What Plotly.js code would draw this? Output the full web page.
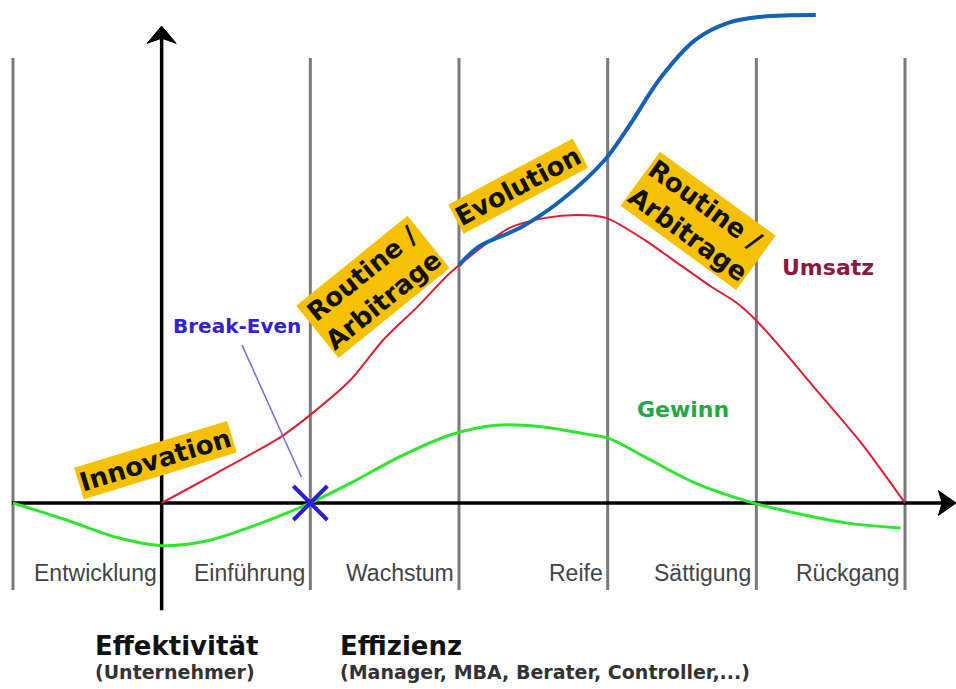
<!DOCTYPE html>
<html>
<head>
<meta charset="utf-8">
<script src="https://cdn.plot.ly/plotly-3.0.1.min.js"></script>
<style>
  html, body { margin: 0; padding: 0; background: #ffffff; }
  #chart { width: 956px; height: 689px; }
</style>
</head>
<body>
<div id="chart"></div>
<script>
// ---- data (x: phase units, 0..6 ; y: Umsatz percent of peak) ----
const phases = ['Entwicklung', 'Einführung', 'Wachstum', 'Reife', 'Sättigung', 'Rückgang'];
const boundaries = [0, 2, 3, 4, 5, 6];

const umsatzX = [1.00, 1.37, 1.80, 2.00, 2.27, 2.49, 2.72, 2.94, 3.34, 3.58, 3.80, 3.99, 4.25, 4.47, 4.70, 4.86, 4.99, 5.16, 5.37, 5.70, 6.00];
const umsatzY = [0, 10.4, 22.9, 30.6, 42.7, 56.6, 68.1, 79.9, 95.5, 99.0, 100, 99.0, 91.3, 83.3, 75.0, 69.8, 63.9, 54.2, 41.3, 21.2, 0];

const evolutionX = [3.00, 3.13, 3.42, 3.69, 3.98, 4.14, 4.36, 4.59, 4.81, 5.03, 5.40];
const evolutionY = [82.5, 88.9, 95.8, 105.2, 119.1, 130.6, 147.9, 160.8, 166.7, 168.8, 169.4];

const gewinnX = [0.00, 0.36, 0.70, 1.00, 1.30, 1.60, 2.00, 2.27, 2.60, 2.94, 3.25, 3.55, 3.85, 4.00, 4.25, 4.59, 4.96, 5.26, 5.60, 5.97];
const gewinnY = [0, -5.9, -12.0, -14.8, -13.2, -8.3, 0, 6.9, 16.0, 23.6, 27.0, 26.5, 24.0, 22.6, 16.0, 6.9, 0.3, -3.5, -6.9, -8.7];

const breakEvenX = [2.0];
const breakEvenY = [0];

const phaseLabelY = -24.3;

// ---- traces ----
const traces = [
  { x: gewinnX, y: gewinnY, type: 'scatter', mode: 'lines', name: 'Gewinn',
    line: { color: '#2ee62e', width: 3, shape: 'spline', smoothing: 0.9 }, hoverinfo: 'skip' },
  { x: umsatzX, y: umsatzY, type: 'scatter', mode: 'lines', name: 'Umsatz',
    line: { color: '#e01b35', width: 2, shape: 'spline', smoothing: 0.7 }, hoverinfo: 'skip' },
  { x: evolutionX, y: evolutionY, type: 'scatter', mode: 'lines', name: 'Evolution',
    line: { color: '#1462b4', width: 4, shape: 'spline', smoothing: 1 }, hoverinfo: 'skip' },
  { x: breakEvenX, y: breakEvenY, type: 'scatter', mode: 'markers', name: 'Break-Even',
    marker: { symbol: 'x-thin', size: 34, line: { color: '#2a1fd6', width: 4 } }, hoverinfo: 'skip' }
];

// ---- shapes ----
const shapes = [];
boundaries.forEach(b => {
  shapes.push({ type: 'line', xref: 'x', yref: 'y', x0: b, x1: b, y0: -30.2, y1: 154.5,
    line: { color: '#7a7a7a', width: 3 }, layer: 'below' });
});
// x axis
shapes.push({ type: 'line', xref: 'x', yref: 'y', x0: -0.007, x1: 6.27, y0: 0, y1: 0,
  line: { color: '#000000', width: 3.5 }, layer: 'below' });
shapes.push({ type: 'path', xref: 'x', yref: 'y', path: 'M 6.343,0 L 6.225,4.3 L 6.25,0 L 6.225,-4.3 Z',
  fillcolor: '#000000', line: { color: '#000000', width: 1 }, layer: 'below' });
// y axis
shapes.push({ type: 'line', xref: 'x', yref: 'y', x0: 1, x1: 1, y0: -37.2, y1: 161.5,
  line: { color: '#000000', width: 3.5 }, layer: 'below' });
shapes.push({ type: 'path', xref: 'x', yref: 'y', path: 'M 1,165.6 L 1.0975,159.6 L 1,161.4 L 0.9025,159.6 Z',
  fillcolor: '#000000', line: { color: '#000000', width: 1 }, layer: 'below' });
// break-even leader line
shapes.push({ type: 'line', xref: 'x', yref: 'y', x0: 1.54, y0: 54.9, x1: 1.94, y1: 9.0,
  line: { color: '#7b6fe0', width: 1.5 } });

// ---- annotations ----
const YEL = '#f6c105';
const boxFont = { family: 'DejaVu Sans', size: 26, color: '#111111' };
const annotations = [];

phases.forEach((p, i) => {
  annotations.push({ text: p, x: i + 1, y: phaseLabelY, xref: 'x', yref: 'y',
    xanchor: 'right', yanchor: 'middle', xshift: -3, showarrow: false,
    font: { family: 'Liberation Sans', size: 23, color: '#444444' } });
});

annotations.push({ text: '<b>Innovation</b>', x: 0.96, y: 14.9, xref: 'x', yref: 'y', showarrow: false,
  textangle: -17, bgcolor: YEL, borderpad: 1, font: boxFont });
annotations.push({ text: '<b>Routine /<br>Arbitrage</b>', x: 2.42, y: 75, xref: 'x', yref: 'y', showarrow: false,
  textangle: -39, bgcolor: YEL, borderpad: 1, align: 'center', font: boxFont });
annotations.push({ text: '<b>Evolution</b>', x: 3.40, y: 110.2, xref: 'x', yref: 'y', showarrow: false,
  textangle: -28, bgcolor: YEL, borderpad: 1, font: boxFont });
annotations.push({ text: '<b>Routine /<br>Arbitrage</b>', x: 4.61, y: 97.9, xref: 'x', yref: 'y', showarrow: false,
  textangle: 36, bgcolor: YEL, borderpad: 1, align: 'left', font: boxFont });

annotations.push({ text: '<b>Break-Even</b>', x: 1.507, y: 61.5, xref: 'x', yref: 'y', showarrow: false,
  font: { family: 'DejaVu Sans', size: 20, color: '#3322d0' } });
annotations.push({ text: '<b>Umsatz</b>', x: 5.48, y: 81.6, xref: 'x', yref: 'y', showarrow: false,
  font: { family: 'DejaVu Sans', size: 22, color: '#8b1a3e' } });
annotations.push({ text: '<b>Gewinn</b>', x: 4.51, y: 32.3, xref: 'x', yref: 'y', showarrow: false,
  font: { family: 'DejaVu Sans', size: 22, color: '#23a845' } });

annotations.push({ text: '<b>Effektivität</b>', x: 93, y: 646, xref: 'paper', yref: 'paper', showarrow: false,
  xanchor: 'left', yanchor: 'middle', font: { family: 'DejaVu Sans', size: 26, color: '#111111' } });
annotations.push({ text: '<b>(Unternehmer)</b>', x: 93, y: 672, xref: 'paper', yref: 'paper', showarrow: false,
  xanchor: 'left', yanchor: 'middle', font: { family: 'DejaVu Sans', size: 19, color: '#333333' } });
annotations.push({ text: '<b>Effizienz</b>', x: 338, y: 646, xref: 'paper', yref: 'paper', showarrow: false,
  xanchor: 'left', yanchor: 'middle', font: { family: 'DejaVu Sans', size: 26, color: '#111111' } });
annotations.push({ text: '<b>(Manager, MBA, Berater, Controller,...)</b>', x: 338, y: 672, xref: 'paper', yref: 'paper', showarrow: false,
  xanchor: 'left', yanchor: 'middle', font: { family: 'DejaVu Sans', size: 19, color: '#333333' } });

// convert pixel positions for paper-ref annotations
const W = 956, H = 689;
annotations.forEach(a => {
  if (a.xref === 'paper') { a.x = a.x / W; a.y = 1 - a.y / H; }
});

const layout = {
  width: W, height: H, autosize: false,
  margin: { l: 0, r: 0, t: 0, b: 0, pad: 0 },
  paper_bgcolor: '#ffffff', plot_bgcolor: '#ffffff',
  showlegend: false,
  xaxis: { range: [-0.0874, 6.343], visible: false, fixedrange: true },
  yaxis: { range: [-64.58, 174.65], visible: false, fixedrange: true },
  shapes: shapes,
  annotations: annotations,
  font: { family: 'DejaVu Sans' }
};

Plotly.newPlot('chart', traces, layout, { staticPlot: true, displayModeBar: false });
</script>
</body>
</html>
